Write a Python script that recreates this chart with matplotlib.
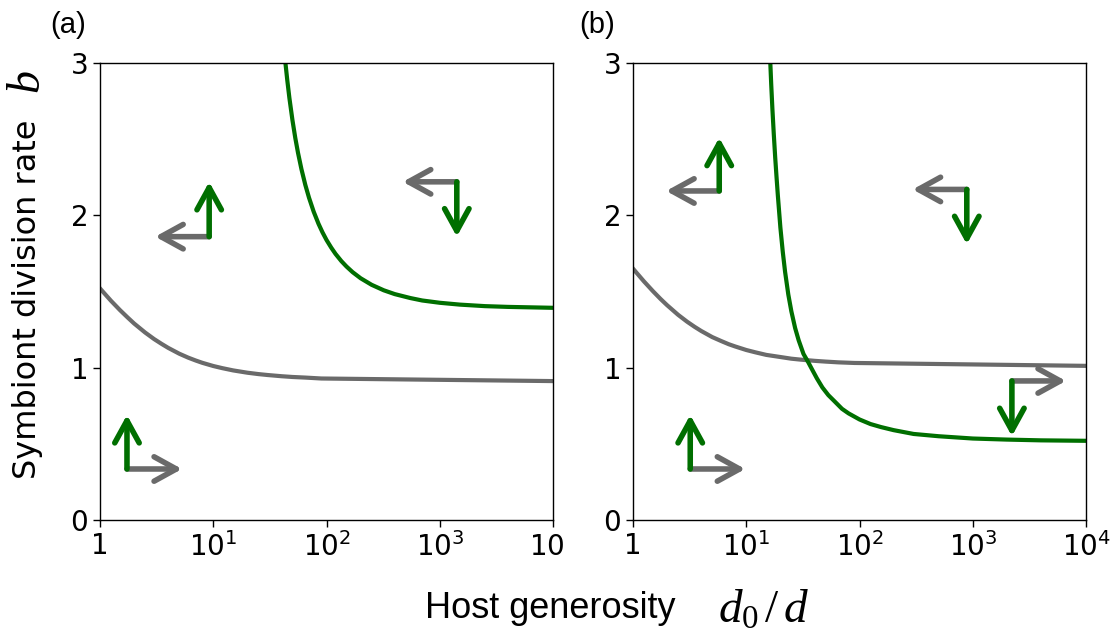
import numpy as np
import matplotlib.pyplot as plt
from matplotlib.patches import Rectangle

plt.rcParams['font.family'] = 'DejaVu Sans'
plt.rcParams['mathtext.fontset'] = 'custom'
plt.rcParams['mathtext.it'] = 'Liberation Serif:italic'
plt.rcParams['mathtext.rm'] = 'Liberation Serif'

GRAY = '#6a6a6a'
GREEN = '#006f00'

# nullclines, panel (a)
gray_a_x = [1, 1.25, 1.5, 1.75, 2, 2.5, 3, 3.5, 4, 5, 6, 7, 8, 10, 12, 15, 20, 25,
            30, 40, 50, 65, 90, 10000]
gray_a_y = [1.52, 1.439, 1.378, 1.33, 1.29, 1.231, 1.188, 1.156, 1.13, 1.092, 1.066,
            1.047, 1.032, 1.011, 0.997, 0.982, 0.967, 0.958, 0.952, 0.944, 0.939,
            0.935, 0.929, 0.912]
green_a_x = [43.5, 45, 47, 50, 53, 56, 60, 65, 70, 77, 85, 92, 100, 110, 120, 135, 150,
             170, 200, 250, 320, 400, 550, 700, 1000, 1500, 2500, 4000, 10000]
green_a_y = [2.99, 2.888, 2.77, 2.625, 2.507, 2.41, 2.304, 2.199, 2.116, 2.024, 1.944,
             1.889, 1.838, 1.788, 1.747, 1.70, 1.664, 1.627, 1.587, 1.544, 1.508,
             1.483, 1.457, 1.441, 1.426, 1.414, 1.404, 1.399, 1.393]

# nullclines, panel (b)
gray_b_x = [1, 1.25, 1.5, 1.75, 2, 2.5, 3, 3.5, 4, 5, 6, 7, 8, 10, 12, 15, 20, 25,
            30, 40, 50, 65, 90, 10000]
gray_b_y = [1.65, 1.566, 1.502, 1.451, 1.41, 1.347, 1.302, 1.268, 1.241, 1.201, 1.175,
            1.154, 1.139, 1.116, 1.101, 1.084, 1.070, 1.059, 1.053, 1.045, 1.040,
            1.035, 1.031, 1.012]
green_b_x = [16.3, 16.6, 17, 17.5, 18, 18.5, 19, 20, 21, 22, 23.5, 25, 27, 29, 32, 35,
             38, 42, 47, 53, 60, 70, 80, 100, 125, 155, 200, 300, 500, 1000, 2000,
             4000, 10000]
green_b_y = [3.0, 2.86, 2.70, 2.53, 2.38, 2.25, 2.13, 1.92, 1.76, 1.63, 1.48, 1.37,
             1.26, 1.18, 1.09, 1.04, 0.99, 0.93, 0.87, 0.82, 0.78, 0.73, 0.70, 0.66,
             0.63, 0.61, 0.59, 0.565, 0.55, 0.535, 0.528, 0.523, 0.52]

# flow arrows: corner (x, b), tip of horizontal arrow (x), tip of vertical arrow (b)
corner_a = [(9.2, 1.86), (1.73, 0.335), (1413, 2.22)]
htip_a = [3.07, 5.3, 471]
vtip_a = [2.22, 0.69, 1.86]
corner_b = [(5.77, 2.16), (3.2, 0.335), (885, 2.17), (2214, 0.913)]
htip_b = [1.96, 9.8, 294, 6650]
vtip_b = [2.51, 0.69, 1.81, 0.55]

xticks = [1, 10, 100, 1000, 10000]
xticklabels = ['1', r'$\mathdefault{10^{1}}$', r'$\mathdefault{10^{2}}$',
               r'$\mathdefault{10^{3}}$', r'$\mathdefault{10^{4}}$']
yticks = [0, 1, 2, 3]

fig = plt.figure(figsize=(11.2, 6.44), dpi=100)
ax_a = fig.add_axes([0.0893, 0.1925, 0.4045, 0.7097])
ax_b = fig.add_axes([0.5652, 0.1925, 0.4045, 0.7097])


def arrow(ax, start, end, color):
    ax.annotate('', xy=end, xytext=start,
                arrowprops=dict(arrowstyle='->,head_length=0.4,head_width=0.22',
                                mutation_scale=40, lw=4, color=color,
                                shrinkA=0, shrinkB=0, capstyle='round'))


def panel(ax, gx, gy, hx, hy, corners, htips, vtips):
    ax.plot(gx, gy, color=GRAY, lw=3)
    ax.plot(hx, hy, color=GREEN, lw=3)
    for (cx, cy), hx_, vy in zip(corners, htips, vtips):
        arrow(ax, (cx, cy), (hx_, cy), GRAY)
        arrow(ax, (cx, cy), (cx, vy), GREEN)
    ax.set_xscale('log')
    ax.set_xlim(1, 1e4)
    ax.set_ylim(0, 3)
    ax.set_xticks(xticks)
    ax.set_xticklabels(xticklabels)
    ax.minorticks_off()
    ax.set_yticks(yticks)
    ax.tick_params(labelsize=20, length=5, width=1)
    for s in ax.spines.values():
        s.set_linewidth(1)


panel(ax_a, gray_a_x, gray_a_y, green_a_x, green_a_y, corner_a, htip_a, vtip_a)
panel(ax_b, gray_b_x, gray_b_y, green_b_x, green_b_y, corner_b, htip_b, vtip_b)

# right panel covers the exponent of the last tick on the left panel
fig.add_artist(Rectangle((564 / 1120, 0.10), 0.03, 0.085, transform=fig.transFigure,
                         facecolor='white', edgecolor='none', zorder=10))

fig.text(68 / 1120, 1 - 25 / 644, '(a)', fontsize=21, family='Liberation Sans',
         ha='center', va='center')
fig.text(597 / 1120, 1 - 25 / 644, '(b)', fontsize=21, family='Liberation Sans',
         ha='center', va='center')

fig.text(28 / 1120, 1 - 299 / 644, 'Symbiont division rate', fontsize=23,
         rotation=90, ha='center', va='center')
fig.text(28 / 1120, 1 - 82 / 644, '$b$', fontsize=33, rotation=90,
         ha='center', va='center')

fig.text(550 / 1120, 1 - 608 / 644, 'Host generosity', fontsize=26,
         family='Liberation Sans', ha='center', va='center')
fig.text(764 / 1120, 1 - 610 / 644, r'$d_0\,/\,d$', fontsize=34,
         ha='center', va='center')

fig.savefig('out.png', dpi=100)
